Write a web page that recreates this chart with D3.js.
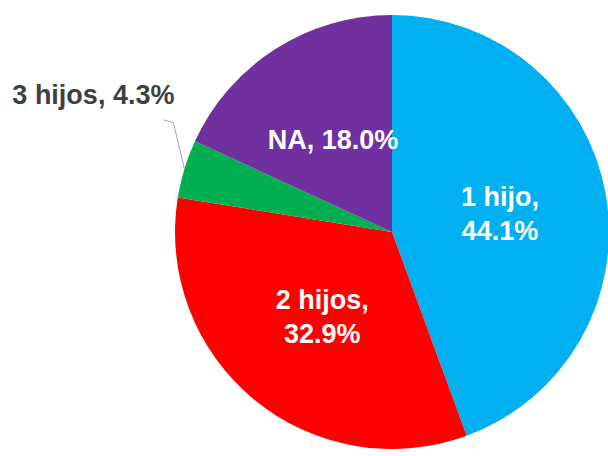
<!DOCTYPE html>
<html>
<head>
<meta charset="utf-8">
<script src="https://cdn.jsdelivr.net/npm/d3@7/dist/d3.min.js"></script>
<style>
  html, body { margin: 0; padding: 0; background: #ffffff; }
  svg { display: block; }
  text { font-family: "Liberation Sans", Arial, sans-serif; font-weight: bold; }
</style>
</head>
<body>
<svg id="chart" width="608" height="456"></svg>
<script>
const categories = ["1 hijo", "2 hijos", "3 hijos", "NA"];
const values = [44.1, 32.9, 4.3, 18.0];
const colors = ["#00B0F0", "#FF0000", "#00B050", "#7030A0"];
const labelLines = [["1 hijo,", "44.1%"], ["2 hijos,", "32.9%"], ["3 hijos, 4.3%"], ["NA, 18.0%"]];
const outsideLabel = [false, false, true, false];

const W = 608, H = 456;
const cx = 392, cy = 232, R = 217;

const svg = d3.select("#chart");
const g = svg.append("g").attr("transform", `translate(${cx},${cy})`);

const data = categories.map((c, i) => ({ cat: c, value: values[i], i }));
const pie = d3.pie().value(d => d.value).sort(null);
const arcs = pie(data);

const arc = d3.arc().innerRadius(0).outerRadius(R);
const labelArc = d3.arc().innerRadius(R * 0.505).outerRadius(R * 0.505);
const edgeArc = d3.arc().innerRadius(R).outerRadius(R);

g.selectAll("path.slice")
  .data(arcs)
  .join("path")
  .attr("class", "slice")
  .attr("d", arc)
  .attr("fill", d => colors[d.data.i]);

const fs = 27, lh = 34;

arcs.forEach(a => {
  const i = a.data.i;
  const lines = labelLines[i];
  if (!outsideLabel[i]) {
    const [x, y] = labelArc.centroid(a);
    const t = g.append("text")
      .attr("text-anchor", "middle")
      .attr("fill", "#ffffff")
      .attr("font-size", fs);
    const y0 = y - (lines.length - 1) * lh / 2 + fs * 0.36;
    lines.forEach((ln, k) => {
      t.append("tspan").attr("x", x).attr("y", y0 + k * lh).text(ln);
    });
  } else {
    const [ex, ey] = edgeArc.centroid(a);
    const elbow = [ex - 11, ey - 46];
    const end = [elbow[0] - 10, elbow[1] - 3];
    g.append("path")
      .attr("d", d3.line()([[ex, ey], elbow, end]))
      .attr("fill", "none")
      .attr("stroke", "#a6a6a6")
      .attr("stroke-width", 1);
    g.append("text")
      .attr("text-anchor", "end")
      .attr("fill", "#404040")
      .attr("font-size", fs)
      .attr("x", elbow[0] + 1)
      .attr("y", elbow[1] - 19)
      .text(lines[0]);
  }
});
</script>
</body>
</html>
